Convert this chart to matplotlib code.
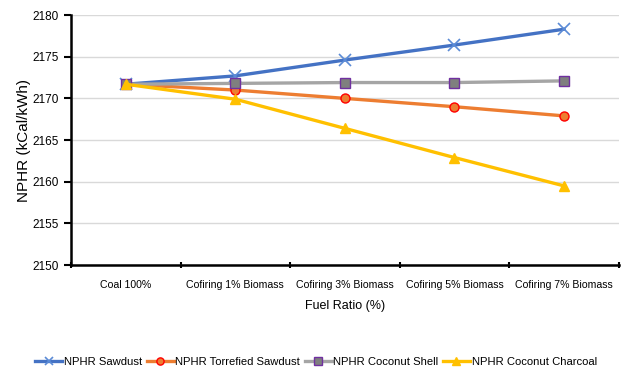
import matplotlib
matplotlib.use("Agg")
import matplotlib.pyplot as plt
import numpy as np
from matplotlib.ticker import FixedLocator

plt.rcParams['font.family'] = ['Liberation Sans', 'DejaVu Sans']

categories = ['Coal 100%', 'Cofiring 1% Biomass', 'Cofiring 3% Biomass',
              'Cofiring 5% Biomass', 'Cofiring 7% Biomass']
sawdust = [2171.7, 2172.7, 2174.6, 2176.4, 2178.3]
torrefied = [2171.7, 2171.0, 2170.0, 2169.0, 2167.9]
coconut_shell = [2171.7, 2171.8, 2171.9, 2171.9, 2172.1]
coconut_charcoal = [2171.7, 2169.9, 2166.4, 2162.9, 2159.5]
y_ticks = [2150, 2155, 2160, 2165, 2170, 2175, 2180]

fig = plt.figure(figsize=(6.22, 3.76), dpi=100)
ax = fig.add_axes([0.114, 0.295, 0.881, 0.665])

x = np.arange(len(categories))

ax.plot(x, sawdust, color='#4472C4', lw=2.4, marker='x', ms=8, mew=1.2,
        mec='#5B8BD6', label='NPHR Sawdust')
ax.plot(x, torrefied, color='#ED7D31', lw=2.4, marker='o', ms=6.5, mew=1.0,
        mfc='#ED7D31', mec='#FF0000', label='NPHR Torrefied Sawdust')
ax.plot(x, coconut_shell, color='#A5A5A5', lw=2.4, marker='s', ms=6.5, mew=1.0,
        mfc='#7F7F7F', mec='#7030A0', label='NPHR Coconut Shell')
ax.plot(x, coconut_charcoal, color='#FFC000', lw=2.4, marker='^', ms=6.5,
        mfc='#FFC000', mec='#FFC000', label='NPHR Coconut Charcoal')

ax.set_xlim(-0.5, len(categories) - 0.5)
ax.set_ylim(2150, 2180)
ax.set_yticks(y_ticks)
ax.yaxis.grid(True, color='#D9D9D9', lw=1)
ax.set_axisbelow(True)

# ticks at category boundaries, labels at centres (Excel style)
ax.xaxis.set_major_locator(FixedLocator(np.arange(-0.5, len(categories), 1.0)))
ax.set_xticklabels([])
ax.set_xticks(x, minor=True)
ax.set_xticklabels(categories, minor=True)
ax.tick_params(axis='x', which='minor', length=0, pad=11, labelsize=7.6)
ax.tick_params(axis='x', which='major', length=5, width=1.5, direction='inout')
ax.tick_params(axis='y', length=5, width=1.5, labelsize=8.5, direction='out')

for s in ['top', 'right']:
    ax.spines[s].set_visible(False)
for s in ['left', 'bottom']:
    ax.spines[s].set_linewidth(1.8)

ax.set_ylabel('NPHR (kCal/kWh)', fontsize=11, labelpad=1)
ax.set_xlabel('Fuel Ratio (%)', fontsize=9, labelpad=7)

fig.legend(loc='center', bbox_to_anchor=(0.508, 0.037), ncol=4, frameon=False,
           fontsize=8.1, handlelength=2.4, handletextpad=0.15, columnspacing=0.4,
           markerscale=0.8)

fig.savefig('out.png', dpi=100)
